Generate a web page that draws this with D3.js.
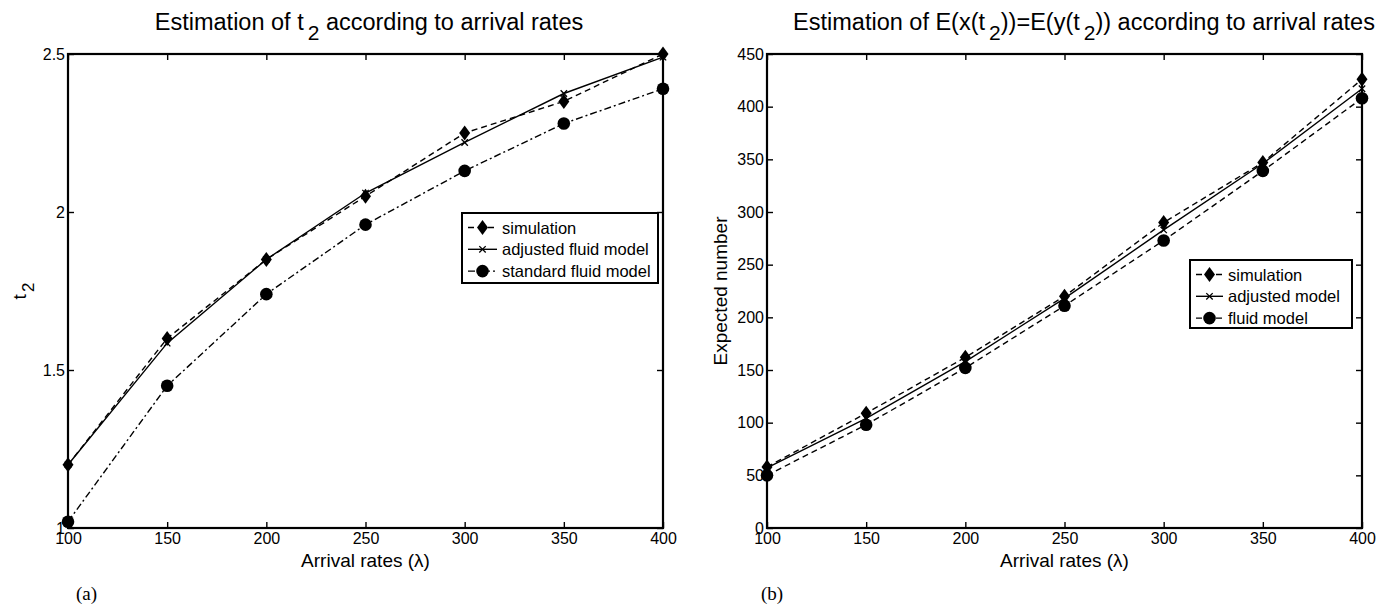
<!DOCTYPE html>
<html><head><meta charset="utf-8">
<script src="https://cdn.jsdelivr.net/npm/d3@7"></script>
<style>body{margin:0;background:#fff}svg{display:block}</style>
</head><body>
<svg id="c" width="1390" height="607"></svg>
<script>
const rates = [100,150,200,250,300,350,400];
const xTicks = [100,150,200,250,300,350,400];
// Panel (a): t2
const t2Simulation = [1.20,1.60,1.85,2.05,2.25,2.35,2.50];
const t2Adjusted   = [1.20,1.585,1.85,2.06,2.22,2.375,2.49];
const t2Standard   = [1.02,1.45,1.74,1.96,2.13,2.28,2.39];
const t2Ticks = [1,1.5,2,2.5];
// Panel (b): expected number
const enSimulation = [58,109,162,220,290,347,426];
const enAdjusted   = [57,104,158,218,283,346,417];
const enFluid      = [50,98,152,211,273,339,408];
const enTicks = [0,50,100,150,200,250,300,350,400,450];

const svg = d3.select("#c");
const FONT = "Liberation Sans, Arial, Helvetica, sans-serif";

function diamond(g, x, y){ g.append("path").attr("d",`M${x},${y-7.5}L${x+5.5},${y}L${x},${y+7.5}L${x-5.5},${y}Z`).attr("fill","#000"); }
function circle(g, x, y){ g.append("circle").attr("cx",x).attr("cy",y).attr("r",6.3).attr("fill","#000"); }
function cross(g, x, y){ const s=3.2; g.append("path").attr("d",`M${x-s},${y-s}L${x+s},${y+s}M${x-s},${y+s}L${x+s},${y-s}`).attr("stroke","#000").attr("stroke-width",1.3); }
const markerFns = {diamond, circle, cross};

function panel(cfg){
  const x = d3.scaleLinear().domain([100,400]).range([cfg.x0,cfg.x1]);
  const y = d3.scaleLinear().domain(cfg.yDomain).range([cfg.yBot,cfg.yTop]);
  const g = svg.append("g");
  cfg.series.forEach(s=>{
    const line = d3.line().x((d,i)=>x(rates[i])).y(d=>y(d));
    g.append("path").datum(s.values).attr("d",line).attr("fill","none")
      .attr("stroke","#000").attr("stroke-width",1.4).attr("stroke-dasharray",s.dash||null);
  });
  cfg.series.forEach(s=>{
    s.values.forEach((v,i)=>markerFns[s.marker](g, x(rates[i]), y(v)));
  });
  const ax = g.append("g").attr("font-family",FONT);
  const bottom = ax.append("g").attr("transform",`translate(0,${cfg.yBot})`)
    .call(d3.axisBottom(x).tickValues(xTicks).tickSize(-6).tickPadding(5).tickFormat(d3.format("d")));
  const top = ax.append("g").attr("transform",`translate(0,${cfg.yTop})`)
    .call(d3.axisTop(x).tickValues(xTicks).tickSize(-6).tickFormat(""));
  const left = ax.append("g").attr("transform",`translate(${cfg.x0},0)`)
    .call(d3.axisLeft(y).tickValues(cfg.yTicks).tickSize(-6).tickPadding(3).tickFormat(cfg.yFmt));
  const right = ax.append("g").attr("transform",`translate(${cfg.x1},0)`)
    .call(d3.axisRight(y).tickValues(cfg.yTicks).tickSize(-6).tickFormat(""));
  [bottom,top,left,right].forEach(a=>{
    a.select(".domain").remove();
    a.selectAll(".tick line").attr("stroke","#000").attr("stroke-width",1.4);
    a.selectAll("text").attr("font-size",16).attr("fill","#000").attr("font-family",FONT);
  });
  g.append("rect").attr("x",cfg.x0).attr("y",cfg.yTop).attr("width",cfg.x1-cfg.x0).attr("height",cfg.yBot-cfg.yTop)
    .attr("fill","none").attr("stroke","#000").attr("stroke-width",2.2);
  // x label
  g.append("text").attr("x",(cfg.x0+cfg.x1)/2).attr("y",cfg.yBot+39).attr("text-anchor","middle")
    .attr("font-family",FONT).attr("font-size",19).text("Arrival rates (λ)");
  // title
  const t = g.append("text").attr("x",cfg.titleX).attr("y",30).attr("text-anchor","middle")
    .attr("font-family",FONT).attr("font-size",23.5);
  let pendingUp = 0;
  cfg.title.forEach(p=>{
    if(p.sub){ t.append("tspan").attr("dx",4).attr("dy",10).attr("font-size",21).text(p.t); pendingUp = -10; }
    else { const ts = t.append("tspan").text(p.t); if(pendingUp){ ts.attr("dy",pendingUp); pendingUp=0; } }
  });
  // y label
  const yl = g.append("text").attr("transform",`translate(${cfg.yLabX},${(cfg.yTop+cfg.yBot)/2}) rotate(-90)`)
    .attr("text-anchor","middle").attr("font-family",FONT).attr("font-size",19);
  cfg.yLabel.forEach(p=>{
    if(p.sub){ yl.append("tspan").attr("dx",2).attr("dy",8).attr("font-size",17).text(p.t); }
    else yl.append("tspan").text(p.t);
  });
  // caption
  g.append("text").attr("x",cfg.capX).attr("y",600).attr("font-family","Liberation Serif, Times New Roman, serif")
    .attr("font-size",19).text(cfg.caption);
  // legend
  const L = cfg.legend;
  const lg = g.append("g");
  lg.append("rect").attr("x",L.x).attr("y",L.y).attr("width",L.w).attr("height",L.h)
    .attr("fill","#fff").attr("stroke","#000").attr("stroke-width",2);
  cfg.series.forEach((s,i)=>{
    const yy = L.y + 14.5 + i*21.8;
    lg.append("line").attr("x1",L.x+6).attr("x2",L.x+L.ls).attr("y1",yy).attr("y2",yy)
      .attr("stroke","#000").attr("stroke-width",1.4).attr("stroke-dasharray",s.dash||null);
    markerFns[s.marker](lg, L.x+(6+L.ls)/2, yy);
    lg.append("text").attr("x",L.x+L.ls+5).attr("y",yy+6).attr("font-family",FONT).attr("font-size",16.5).text(s.name);
  });
}

panel({
  x0:68, x1:663, yTop:54, yBot:528, yDomain:[1,2.5], yTicks:t2Ticks, yFmt:d3.format("~g"),
  series:[
    {name:"simulation", values:t2Simulation, marker:"diamond", dash:"6,4"},
    {name:"adjusted fluid model", values:t2Adjusted, marker:"cross", dash:null},
    {name:"standard fluid model", values:t2Standard, marker:"circle", dash:"7,3,2,3"}
  ],
  title:[{t:"Estimation of t"},{t:"2",sub:true},{t:" according to arrival rates"}], titleX:369,
  yLabel:[{t:"t"},{t:"2",sub:true}], yLabX:26,
  caption:"(a)", capX:76,
  legend:{x:462, y:213, w:196, h:70, ls:35}
});

panel({
  x0:767, x1:1362, yTop:54, yBot:528, yDomain:[0,450], yTicks:enTicks, yFmt:d3.format("d"),
  series:[
    {name:"simulation", values:enSimulation, marker:"diamond", dash:"6,4"},
    {name:"adjusted model", values:enAdjusted, marker:"cross", dash:null},
    {name:"fluid model", values:enFluid, marker:"circle", dash:"6,4"}
  ],
  title:[{t:"Estimation of E(x(t"},{t:"2",sub:true},{t:"))=E(y(t"},{t:"2",sub:true},{t:")) according to arrival rates"}], titleX:1084,
  yLabel:[{t:"Expected number"}], yLabX:727,
  caption:"(b)", capX:761,
  legend:{x:1190, y:260, w:162, h:68, ls:33}
});
</script>
</body></html>
